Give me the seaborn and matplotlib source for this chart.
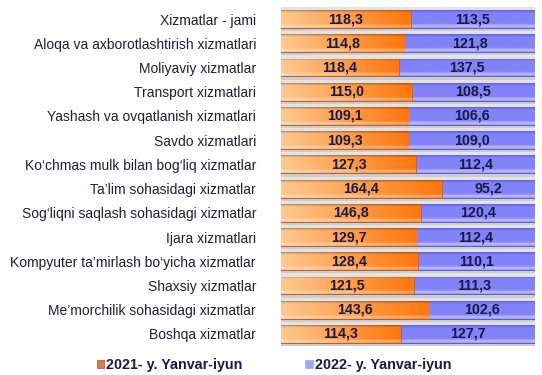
import numpy as np
import pandas as pd
import matplotlib
matplotlib.use('Agg')
import matplotlib.pyplot as plt
import seaborn as sns
from matplotlib.patches import Patch
from matplotlib.colors import LinearSegmentedColormap, to_rgba

services = [
    'Xizmatlar - jami',
    'Aloqa va axborotlashtirish xizmatlari',
    'Moliyaviy xizmatlar',
    'Transport xizmatlari',
    'Yashash va ovqatlanish xizmatlari',
    'Savdo xizmatlari',
    'Ko\u2018chmas mulk bilan bog\u2018liq xizmatlar',
    'Ta\u2019lim sohasidagi xizmatlar',
    'Sog\u2018liqni saqlash sohasidagi xizmatlar',
    'Ijara xizmatlari',
    'Kompyuter ta\u2019mirlash bo\u2018yicha xizmatlar',
    'Shaxsiy xizmatlar',
    'Me\u2019morchilik sohasidagi xizmatlar',
    'Boshqa xizmatlar',
]
y2021 = [118.3, 114.8, 118.4, 115.0, 109.1, 109.3, 127.3, 164.4, 146.8, 129.7, 128.4, 121.5, 143.6, 114.3]
y2022 = [113.5, 121.8, 137.5, 108.5, 106.6, 109.0, 112.4, 95.2, 120.4, 112.4, 110.1, 111.3, 102.6, 127.7]
legend_labels = ['2021- y. Yanvar-iyun', '2022- y. Yanvar-iyun']

df = pd.DataFrame({'service': services, 'y2021': y2021, 'y2022': y2022})
df['full'] = 100.0
df['share21'] = df['y2021'] / (df['y2021'] + df['y2022']) * 100

sns.set_theme(style='white')
plt.rcParams['font.family'] = ['Liberation Sans', 'DejaVu Sans']

navy = '#1B1B45'

fig = plt.figure(figsize=(5.42, 3.75), dpi=100)
ax = fig.add_axes([281 / 542, 1 - 346 / 375, 254 / 542, 339 / 375])

# gray track behind each bar
sns.barplot(data=df, x='full', y='service', orient='h', color='#dcdcdc',
            width=1.0, saturation=1, ax=ax, zorder=1)
n_gray = len(ax.patches)
# blue = whole bar, orange share drawn on top
sns.barplot(data=df, x='full', y='service', orient='h', color='#8282fa',
            width=0.74, saturation=1, ax=ax, zorder=2)
n_blue = len(ax.patches)
sns.barplot(data=df, x='share21', y='service', orient='h', color='#ff8a2a',
            width=0.74, saturation=1, ax=ax, zorder=3)

patches = ax.patches
gray_p = patches[:n_gray]
blue_p = patches[n_gray:n_blue]
orange_p = patches[n_blue:]


def overlay(patch, img, z):
    x0, y0 = patch.get_x(), patch.get_y()
    w, h = patch.get_width(), patch.get_height()
    im = ax.imshow(img, extent=(x0, x0 + w, y0 + h, y0), aspect='auto',
                   zorder=z, interpolation='bilinear')
    im.set_clip_path(patch)


M, N = 40, 200
t = np.linspace(0, 1, M)

orange_cmap = LinearSegmentedColormap.from_list(
    'o', ['#ffc891', '#ffad65', '#ff9035', '#ff760f'])
for p in orange_p:
    base = orange_cmap(np.linspace(0, 1, N))[None, :, :3]
    f = np.interp(t, [0, 0.12, 0.5, 1], [0.7, 1.0, 1.0, 1.0])[:, None, None]
    rgb = np.clip(base * f, 0, 1)
    light = np.interp(t, [0, 0.78, 0.9, 1], [0, 0, 0.4, 0.1])[:, None, None]
    rgb = rgb * (1 - light) + light
    overlay(p, rgb, 3.1)
    p.set_edgecolor('#b85a1c')
    p.set_linewidth(0.5)

blue_top = np.array(to_rgba('#6262e6')[:3])
blue_mid = np.array(to_rgba('#8282fa')[:3])
blue_bot = np.array(to_rgba('#c0c0ff')[:3])
w1 = np.interp(t, [0, 0.15, 1], [1, 0, 0])[:, None]
w3 = np.interp(t, [0, 0.75, 0.9, 1], [0, 0, 1, 0.4])[:, None]
w2 = 1 - w1 - w3
blue_img = (w1 * blue_top + w2 * blue_mid + w3 * blue_bot)[:, None, :].repeat(N, axis=1)
for p in blue_p:
    overlay(p, blue_img, 2.1)
    p.set_edgecolor('#5050c8')
    p.set_linewidth(0.6)

gray_img = (np.interp(t, [0, 0.5, 1], [0.9, 0.86, 0.8])[:, None, None]
            * np.ones((1, N, 3)))
for p in gray_p:
    overlay(p, gray_img, 1.1)
    p.set_linewidth(0)

for i, row in df.iterrows():
    ax.text(row['share21'] / 2, i, f"{row['y2021']:.1f}".replace('.', ','),
            ha='center', va='center', fontsize=10.3, fontweight='bold',
            color=navy, zorder=6)
    ax.text((row['share21'] + 100) / 2, i, f"{row['y2022']:.1f}".replace('.', ','),
            ha='center', va='center', fontsize=10.3, fontweight='bold',
            color=navy, zorder=6)

ax.set_xlim(0, 100)
ax.set_ylim(len(df) - 0.5, -0.5)
ax.set_xlabel('')
ax.set_ylabel('')
ax.set_xticks([])
ax.tick_params(axis='y', length=0, pad=18, labelsize=10, labelcolor='#1e1e38')
for s in ax.spines.values():
    s.set_visible(False)

handles = [Patch(facecolor='#e8743a', edgecolor='#a05a40', linewidth=0.5),
           Patch(facecolor='#a4a4f4', edgecolor='#a4a4f4', linewidth=0.5)]
fig.legend(handles, legend_labels, loc='center', bbox_to_anchor=(274 / 542, 1 - 365 / 375),
           ncol=2, frameon=False, handlelength=0.5, handleheight=0.5,
           handletextpad=0.15, columnspacing=4.4,
           prop={'weight': 'bold', 'size': 10.3}, labelcolor=navy)

fig.savefig('out.png', dpi=100)
